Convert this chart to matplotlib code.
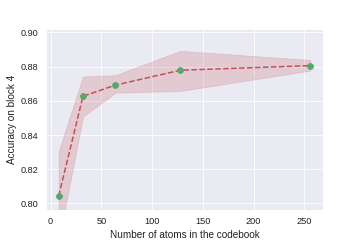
import matplotlib
matplotlib.use("Agg")
import matplotlib.pyplot as plt
import seaborn as sns

# atoms in codebook vs accuracy on block 4
atoms = [8, 32, 64, 128, 256]
acc_mean = [0.8043, 0.8627, 0.8692, 0.8779, 0.8806]
acc_low = [0.7780, 0.8508, 0.8648, 0.8658, 0.8777]
acc_high = [0.8304, 0.8742, 0.8750, 0.8892, 0.8839]

sns.set_theme(style="darkgrid")
plt.rcParams["font.family"] = ["Liberation Sans", "DejaVu Sans"]
red = sns.color_palette("deep")[3]
green = sns.color_palette("deep")[2]

fig, ax = plt.subplots(figsize=(6, 4), dpi=60)
fig.subplots_adjust(left=0.128, right=0.897, bottom=0.127, top=0.879)

ax.fill_between(atoms, acc_low, acc_high, color=red, alpha=0.2)
ax.plot(atoms, acc_mean, "--", color=red, linewidth=1.8)
ax.plot(atoms, acc_mean, "o", color=green, markersize=7)

ax.set_ylim(0.7964, 0.902)
ax.set_xlabel("Number of atoms in the codebook", color="#222222")
ax.set_ylabel("Accuracy on block 4", color="#222222")
ax.tick_params(labelcolor="#222222")

fig.savefig("out.png", dpi=60)
